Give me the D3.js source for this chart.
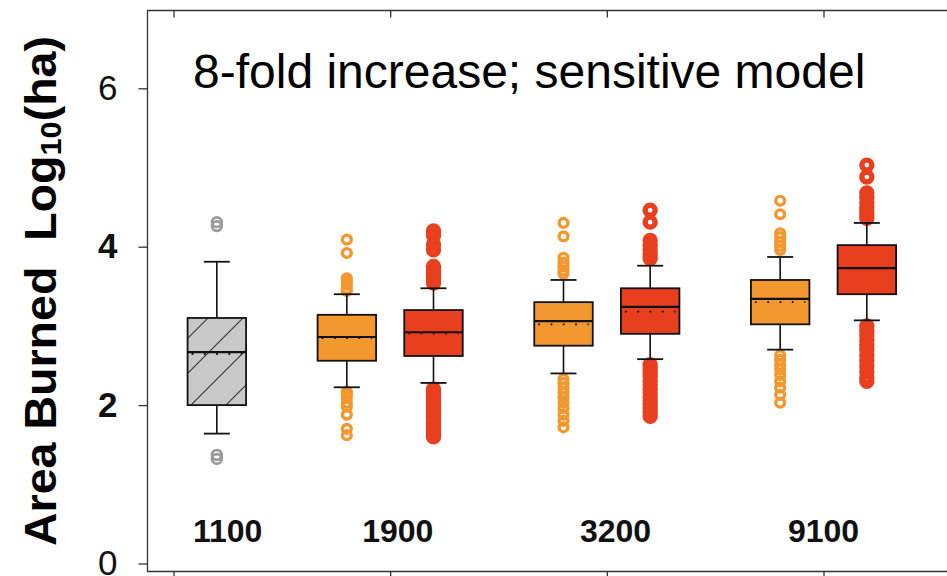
<!DOCTYPE html>
<html><head><meta charset="utf-8">
<script src="https://cdn.jsdelivr.net/npm/d3@7"></script>
<style>body{margin:0;background:#fff}svg{display:block}</style>
</head><body>
<svg id="c" width="947" height="576"></svg>
<script>
// ---- data ----
const groupLabels = ["1100", "1900", "3200", "9100"];
const groupLabelAt = [1.25, 2.035, 3.04, 4.0];
const yTicks = [0, 2, 4, 6];
const titleText = "8-fold increase; sensitive model";

const boxGroup  = [1, 2, 2, 3, 3, 4, 4];
const boxSeries = ["reference", "moderate", "sensitive", "moderate", "sensitive", "moderate", "sensitive"];
const whiskerLow  = [1.64, 2.225, 2.28, 2.40, 2.58, 2.70, 3.07];
const q1          = [2.00, 2.56, 2.62, 2.75, 2.90, 3.02, 3.40];
const median      = [2.67, 2.86, 2.92, 3.06, 3.24, 3.34, 3.73];
const mean        = [2.645, 2.845, 2.905, 3.02, 3.18, 3.30, null];
const q3          = [3.10, 3.14, 3.20, 3.30, 3.475, 3.58, 4.02];
const whiskerHigh = [3.81, 3.40, 3.475, 3.58, 3.76, 3.87, 4.30];
const outliers = [
  [4.31, 4.26, 1.37, 1.32],
  [4.09, 3.92, 3.60, 3.56, 3.52, 3.47, 3.44, 2.17, 2.14, 2.10, 2.03, 1.98, 1.88, 1.70, 1.62],
  [4.20, 4.14, 4.03, 3.96, 3.75, 3.70, 3.66, 3.62, 3.58, 3.54,
   2.20, 2.17, 2.13, 2.09, 2.05, 2.01, 1.97, 1.93, 1.89, 1.85, 1.80, 1.76, 1.72, 1.68, 1.64, 1.60],
  [4.30, 4.13, 3.86, 3.80, 3.75, 3.70, 3.66, 2.33, 2.28, 2.22, 2.16, 2.10, 2.03, 1.96, 1.88, 1.80, 1.72],
  [4.46, 4.31, 4.08, 4.02, 3.96, 3.90, 3.85,
   2.51, 2.46, 2.41, 2.36, 2.31, 2.26, 2.21, 2.16, 2.11, 2.06, 2.01, 1.96, 1.91, 1.86],
  [4.58, 4.41, 4.17, 4.12, 4.06, 4.01, 3.96, 2.63, 2.57, 2.51, 2.45, 2.38, 2.30, 2.22, 2.13, 2.03],
  [5.03, 4.88, 4.68, 4.62, 4.56, 4.50, 4.45, 4.40, 4.36,
   3.00, 2.94, 2.88, 2.82, 2.76, 2.70, 2.63, 2.56, 2.49, 2.42, 2.35, 2.30]
];

// ---- styles ----
const seriesOffset = {reference: 0.2, moderate: -0.2, sensitive: 0.2};
const seriesFill = {reference: "#c9c9c9", moderate: "#f2982e", sensitive: "#e83f1e"};
const outColor = {reference: "#9a9a9a", moderate: "#f2982e", sensitive: "#e83f1e"};
const outR = {reference: 4.8, moderate: 4.4, sensitive: 5.0};
const outSW = {reference: 2.8, moderate: 3.4, sensitive: 5.4};

const svg = d3.select("#c");
svg.append("rect").attr("width", 947).attr("height", 576).attr("fill", "#fff");

const x = d3.scaleLinear().domain([1, 4]).range([173.5, 823.5]);
const y = d3.scaleLinear().domain([0, 6]).range([563.5, 88.3]);
const frame = {left: 147.5, top: 10.5, bottom: 571.5, right: 990};

// hatch pattern
const defs = svg.append("defs");
const pat = defs.append("pattern").attr("id", "hatch").attr("patternUnits", "userSpaceOnUse")
  .attr("x", 1).attr("y", 0).attr("width", 35).attr("height", 35);
pat.append("path").attr("d", "M-2,2 l4,-4 M0,35 l35,-35 M33,37 l4,-4")
  .attr("stroke", "#333").attr("stroke-width", 1.1);

// frame
svg.append("path")
  .attr("d", `M${frame.right},${frame.top} H${frame.left} V${frame.bottom} H${frame.right}`)
  .attr("fill", "none").attr("stroke", "#333").attr("stroke-width", 1.3);

// axes
const yAxis = svg.append("g").attr("transform", `translate(${frame.left},0)`)
  .call(d3.axisLeft(y).tickValues(yTicks).tickSize(9).tickPadding(21).tickFormat(d3.format("d")));
yAxis.select(".domain").remove();
yAxis.selectAll("line").attr("stroke", "#333").attr("stroke-width", 1.3);
yAxis.selectAll("text").attr("font-family", "Liberation Sans, Arial, sans-serif")
  .attr("font-size", 35).attr("fill", "#111")
  .attr("font-weight", d => (d === 2 || d === 4) ? "bold" : "normal");

const xAxis = svg.append("g").attr("transform", `translate(0,${frame.bottom})`)
  .call(d3.axisBottom(x).tickValues([1, 2, 3, 4]).tickSize(7).tickFormat(""));
xAxis.select(".domain").remove();
xAxis.selectAll("line").attr("stroke", "#333").attr("stroke-width", 1.3);

const xTop = svg.append("g").attr("transform", `translate(0,${frame.top})`)
  .call(d3.axisTop(x).tickValues([1, 2, 3, 4]).tickSize(-7).tickFormat(""));
xTop.select(".domain").remove();
xTop.selectAll("line").attr("stroke", "#333").attr("stroke-width", 1.3);

// boxes
const halfW = x(1.135) - x(1);
const capW = x(1.06) - x(1);
const boxes = boxGroup.map((g, i) => ({
  i, cx: x(g + seriesOffset[boxSeries[i]]), s: boxSeries[i]
}));

const gOut = svg.append("g");
boxes.forEach(b => {
  gOut.selectAll(null).data(outliers[b.i]).enter().append("circle")
    .attr("cx", b.cx).attr("cy", d => y(d)).attr("r", outR[b.s])
    .attr("fill", "none").attr("stroke", outColor[b.s]).attr("stroke-width", outSW[b.s]);
});

const gBox = svg.append("g");
boxes.forEach(b => {
  const i = b.i;
  const g = gBox.append("g");
  g.append("line").attr("x1", b.cx).attr("x2", b.cx).attr("y1", y(q3[i])).attr("y2", y(whiskerHigh[i]))
    .attr("stroke", "#111").attr("stroke-width", 1.6);
  g.append("line").attr("x1", b.cx).attr("x2", b.cx).attr("y1", y(q1[i])).attr("y2", y(whiskerLow[i]))
    .attr("stroke", "#111").attr("stroke-width", 1.6);
  [whiskerHigh[i], whiskerLow[i]].forEach(v => {
    g.append("line").attr("x1", b.cx - capW).attr("x2", b.cx + capW).attr("y1", y(v)).attr("y2", y(v))
      .attr("stroke", "#111").attr("stroke-width", 1.8);
  });
  g.append("rect").attr("x", b.cx - halfW).attr("width", 2 * halfW)
    .attr("y", y(q3[i])).attr("height", y(q1[i]) - y(q3[i]))
    .attr("fill", seriesFill[b.s]).attr("stroke", "none");
  if (b.s === "reference") {
    g.append("rect").attr("x", b.cx - halfW).attr("width", 2 * halfW)
      .attr("y", y(q3[i])).attr("height", y(q1[i]) - y(q3[i]))
      .attr("fill", "url(#hatch)");
  }
  g.append("rect").attr("x", b.cx - halfW).attr("width", 2 * halfW)
    .attr("y", y(q3[i])).attr("height", y(q1[i]) - y(q3[i]))
    .attr("fill", "none").attr("stroke", "#111").attr("stroke-width", 1.8);
  if (mean[i] !== null) {
    g.append("line").attr("x1", b.cx - halfW + 4).attr("x2", b.cx + halfW - 4)
      .attr("y1", y(mean[i])).attr("y2", y(mean[i]))
      .attr("stroke", "#111").attr("stroke-width", 1.8).attr("stroke-dasharray", "1.8,10.5");
  }
  g.append("line").attr("x1", b.cx - halfW).attr("x2", b.cx + halfW)
    .attr("y1", y(median[i])).attr("y2", y(median[i]))
    .attr("stroke", "#111").attr("stroke-width", 2.2);
});

// group labels
svg.append("g").selectAll("text").data(groupLabels).enter().append("text")
  .attr("x", (d, i) => x(groupLabelAt[i])).attr("y", 542)
  .attr("text-anchor", "middle")
  .attr("font-family", "Liberation Sans, Arial, sans-serif").attr("font-weight", "bold")
  .attr("font-size", 32).attr("fill", "#111")
  .text(d => d);

// title
svg.append("text").attr("x", 193).attr("y", 88)
  .attr("font-family", "Liberation Sans, Arial, sans-serif").attr("font-size", 48).attr("fill", "#000")
  .text(titleText);

// y axis title
const yt = svg.append("text")
  .attr("transform", "translate(56,291) rotate(-90)")
  .attr("text-anchor", "middle")
  .attr("font-family", "Liberation Sans, Arial, sans-serif").attr("font-weight", "bold")
  .attr("font-size", 44).attr("fill", "#000")
  .attr("textLength", 510).attr("lengthAdjust", "spacingAndGlyphs")
  .style("white-space", "pre");
yt.append("tspan").text("Area Burned  Log");
yt.append("tspan").attr("font-size", 29).attr("dy", 5).text("10");
yt.append("tspan").attr("dy", -5).text("(ha)");
</script>
</body></html>
